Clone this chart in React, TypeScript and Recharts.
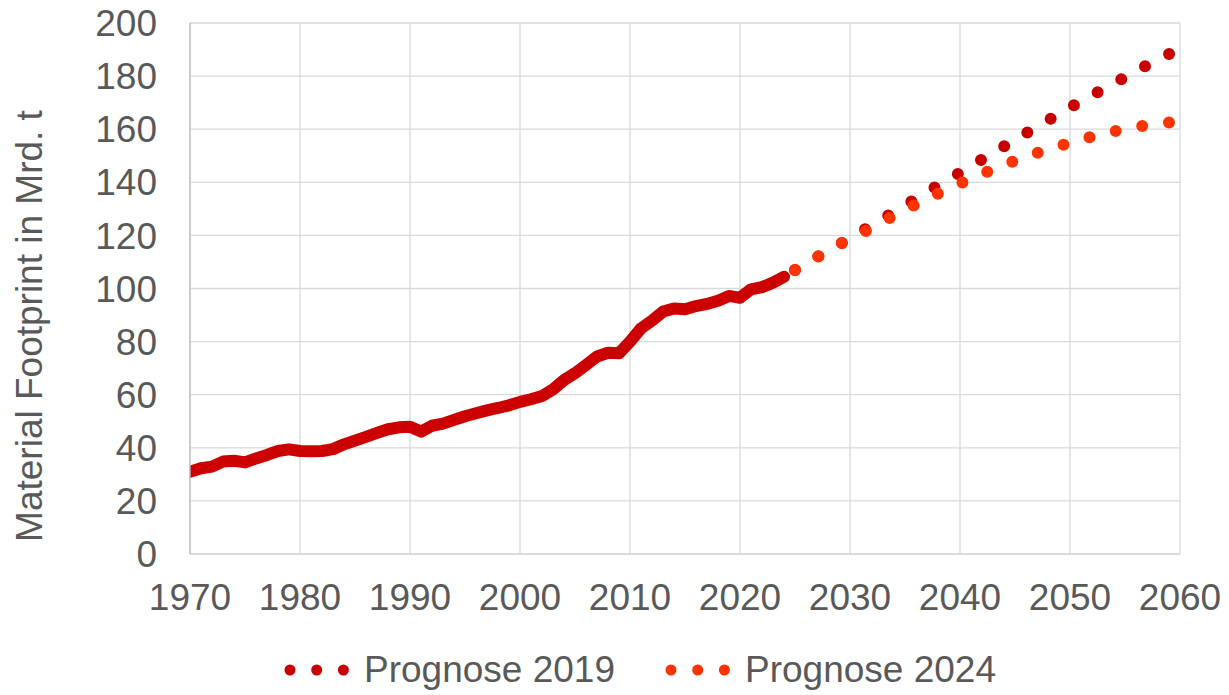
import React from 'react';
import { LineChart, Line, XAxis, YAxis, CartesianGrid, Legend } from 'recharts';

const historyYears = [
  1970, 1971, 1972, 1973, 1974, 1975, 1976, 1977, 1978, 1979,
  1980, 1981, 1982, 1983, 1984, 1985, 1986, 1987, 1988, 1989,
  1990, 1991, 1992, 1993, 1994, 1995, 1996, 1997, 1998, 1999,
  2000, 2001, 2002, 2003, 2004, 2005, 2006, 2007, 2008, 2009,
  2010, 2011, 2012, 2013, 2014, 2015, 2016, 2017, 2018, 2019,
  2020, 2021, 2022, 2023, 2024,
];
const historyValues = [
  31.0, 32.3, 32.9, 34.8, 35.1, 34.5, 36.0, 37.3, 38.8, 39.4,
  38.8, 38.7, 38.8, 39.5, 41.3, 42.7, 44.1, 45.6, 47.0, 47.7,
  47.9, 46.1, 48.3, 49.1, 50.5, 51.9, 53.0, 54.1, 55.0, 56.0,
  57.3, 58.3, 59.5, 62.0, 65.5, 68.1, 71.2, 74.4, 75.8, 75.6,
  80.0, 85.0, 87.9, 91.3, 92.5, 92.2, 93.4, 94.2, 95.4, 97.2,
  96.5, 99.7, 100.5, 102.2, 104.4,
];

const forecastYears = [
  2025, 2026, 2027, 2028, 2029, 2030, 2031, 2032, 2033, 2034,
  2035, 2036, 2037, 2038, 2039, 2040, 2041, 2042, 2043, 2044,
  2045, 2046, 2047, 2048, 2049, 2050, 2051, 2052, 2053, 2054,
  2055, 2056, 2057, 2058, 2059, 2060,
];
const prognose2019 = [
  107.0, 109.4, 111.8, 114.2, 116.5, 119.0, 121.4, 123.9, 126.4, 128.8,
  131.4, 133.8, 136.3, 138.8, 141.2, 143.6, 146.0, 148.6, 151.0, 153.5,
  156.0, 158.5, 160.9, 163.3, 165.8, 168.2, 170.6, 172.7, 175.1, 177.4,
  179.6, 181.8, 184.1, 186.2, 188.3, 190.4,
];
const prognose2024 = [
  107.0, 109.4, 111.8, 114.3, 116.5, 118.8, 120.7, 122.9, 125.2, 127.5,
  129.5, 131.7, 133.7, 135.7, 137.7, 139.5, 141.4, 143.1, 144.9, 146.5,
  148.1, 149.6, 151.0, 152.4, 153.6, 154.9, 156.1, 157.2, 158.2, 159.2,
  160.1, 160.9, 161.5, 162.1, 162.5, 162.8,
];

const xTicks = [1970, 1980, 1990, 2000, 2010, 2020, 2030, 2040, 2050, 2060];
const yTicks = [0, 20, 40, 60, 80, 100, 120, 140, 160, 180, 200];

const seriesNames = { p2019: 'Prognose 2019', p2024: 'Prognose 2024' };
const yAxisTitle = 'Material Footprint in Mrd. t';

const COLOR_HIST = '#CC0000';
const COLOR_2019 = '#C80000';
const COLOR_2024 = '#FF3300';
const FONT = '"Liberation Sans", Arial, sans-serif';
const FONT_SIZE = 37;
const TEXT_COLOR = '#595959';

type Row = { year: number; hist?: number | null; p2019?: number | null; p2024?: number | null };

const buildData = (): Row[] => {
  const map = new Map<number, Row>();
  const get = (y: number) => {
    if (!map.has(y)) map.set(y, { year: y, hist: null, p2019: null, p2024: null });
    return map.get(y)!;
  };
  historyYears.forEach((y, i) => { get(y).hist = historyValues[i]; });
  forecastYears.forEach((y, i) => {
    get(y).p2019 = prognose2019[i];
    get(y).p2024 = prognose2024[i];
  });
  return Array.from(map.values()).sort((a, b) => a.year - b.year);
};

const data = buildData();

const YTitle = (props: any) => {
  const vb = props.viewBox || { x: 0 };
  const x = vb.x + 42;
  const y = 326;
  return (
    <text
      x={x}
      y={y}
      transform={`rotate(-90, ${x}, ${y})`}
      textAnchor="middle"
      fill={TEXT_COLOR}
      fontSize={FONT_SIZE}
      fontFamily={FONT}
    >
      {yAxisTitle}
    </text>
  );
};

const LegendContent = (props: any) => {
  const payload = (props.payload || []).filter((p: any) => p.type !== 'none');
  return (
    <div
      style={{
        display: 'flex',
        alignItems: 'center',
        height: 50,
        paddingLeft: 284,
        fontFamily: FONT,
        fontSize: FONT_SIZE,
        color: TEXT_COLOR,
      }}
    >
      {payload.map((entry: any, i: number) => (
        <div key={entry.value} style={{ display: 'flex', alignItems: 'center', marginLeft: i === 0 ? 0 : 50 }}>
          <svg width={66} height={14} style={{ display: 'block' }}>
            <line
              x1={6}
              y1={7}
              x2={60}
              y2={7}
              stroke={entry.color}
              strokeWidth={11}
              strokeLinecap="round"
              strokeDasharray="0 26.7"
            />
          </svg>
          <span style={{ marginLeft: 14, whiteSpace: 'nowrap' }}>{entry.value}</span>
        </div>
      ))}
    </div>
  );
};

export default function App() {
  return (
    <div style={{ width: 1229, height: 695 }}>
      <style>{'body{margin:0;}'}</style>
      <LineChart
        width={1229}
        height={695}
        data={data}
        margin={{ top: 23, right: 49, bottom: 0, left: 0 }}
      >
        <CartesianGrid stroke="#D9D9D9" strokeWidth={1.3} vertical horizontal />
        <XAxis
          dataKey="year"
          type="number"
          domain={[1970, 2060]}
          ticks={xTicks}
          allowDataOverflow
          height={91}
          tickSize={0}
          tickMargin={30}
          axisLine={{ stroke: '#D9D9D9', strokeWidth: 1.3 }}
          tick={{ fill: TEXT_COLOR, fontSize: FONT_SIZE, fontFamily: FONT }}
          interval={0}
        />
        <YAxis
          type="number"
          domain={[0, 200]}
          ticks={yTicks}
          width={190}
          tickSize={0}
          tickMargin={33}
          axisLine={{ stroke: '#BFBFBF', strokeWidth: 1.3 }}
          tick={{ fill: TEXT_COLOR, fontSize: FONT_SIZE, fontFamily: FONT }}
          interval={0}
          label={<YTitle />}
        />
        <Legend
          verticalAlign="bottom"
          align="left"
          height={50}
          wrapperStyle={{ left: 0, bottom: 0, width: 1229, height: 50 }}
          content={<LegendContent />}
        />
        <Line
          dataKey="hist"
          name="Historisch"
          stroke={COLOR_HIST}
          strokeWidth={12}
          strokeLinecap="round"
          strokeLinejoin="round"
          dot={false}
          activeDot={false}
          legendType="none"
          isAnimationActive={false}
          connectNulls={false}
          type="linear"
        />
        <Line
          dataKey="p2019"
          name={seriesNames.p2019}
          stroke={COLOR_2019}
          strokeWidth={12}
          strokeLinecap="round"
          strokeDasharray="0 27"
          dot={false}
          activeDot={false}
          isAnimationActive={false}
          type="linear"
        />
        <Line
          dataKey="p2024"
          name={seriesNames.p2024}
          stroke={COLOR_2024}
          strokeWidth={12}
          strokeLinecap="round"
          strokeDasharray="0 27"
          dot={false}
          activeDot={false}
          isAnimationActive={false}
          type="linear"
        />
      </LineChart>
    </div>
  );
}
